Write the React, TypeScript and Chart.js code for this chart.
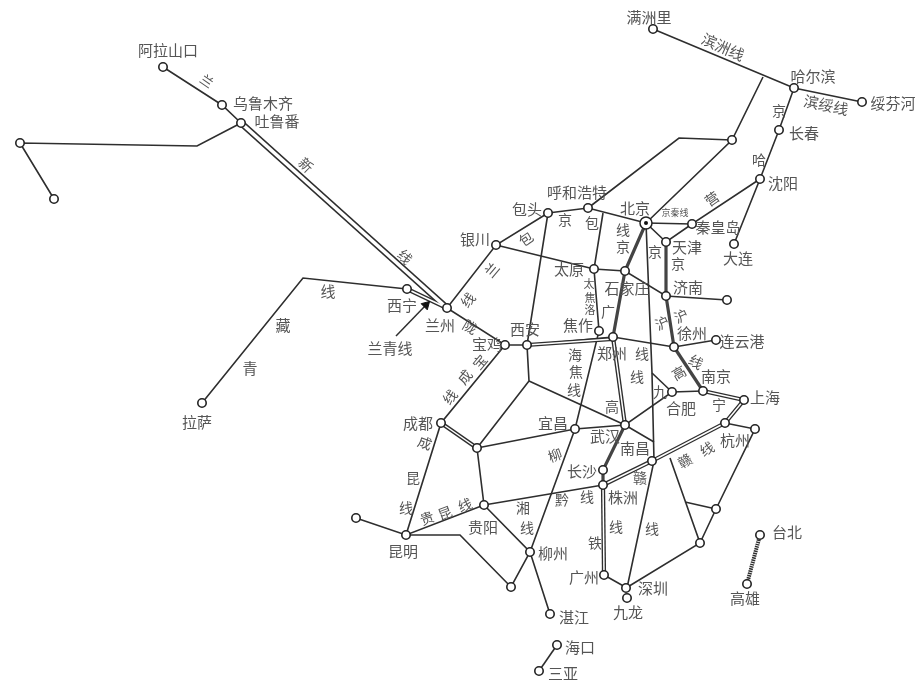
import React, { useEffect, useRef } from "react";
import { Chart, registerables } from "chart.js";

Chart.register(...registerables);

type P = [number, number];

// Railway routes (map x, map y)
const lanxin: P[] = [[241, 123], [447, 308]];
const lanqing: P[] = [[407, 289], [447, 308]];
const beiShijia: P[] = [[646, 223], [625, 271], [613, 337]];
const zhengWu: P[] = [[613, 337], [625, 425]];
const wuZhu: P[] = [[625, 425], [603, 470], [603, 485]];
const tianHu: P[] = [[666, 242], [666, 296], [674, 347]];
const xuNing: P[] = [[674, 347], [703, 391]];
const longhaiEast: P[] = [[527, 345], [613, 339]];
const ninghu: P[] = [[703, 391], [744, 400], [725, 423]];
const zhegan: P[] = [[603, 485], [652, 461], [725, 423]];
const jingguang: P[] = [[603, 485], [604, 575]];
const chengyu: P[] = [[441, 423], [477, 448]];
const taiwan: P[] = [[760, 535], [747, 584]];

const beijiang: P[] = [[163, 67], [222, 105], [241, 123], [197, 146], [20, 143], [54, 199]];
const qingzang: P[] = [[407, 289], [303, 278], [202, 403]];
const binzhou: P[] = [[653, 29], [794, 88], [862, 102]];
const jingha: P[] = [[794, 88], [779, 130], [760, 179], [734, 244]];
const jingqin: P[] = [[646, 223], [692, 224], [760, 179]];
const jingjin: P[] = [[646, 223], [666, 242], [692, 224]];
const jingtong: P[] = [[646, 223], [732, 140], [763, 77]];
const jingbao: P[] = [[548, 213], [588, 208], [646, 223]];
const huhhotNorth: P[] = [[588, 208], [679, 138], [732, 140]];
const baolan: P[] = [[548, 213], [496, 245], [447, 308], [505, 345], [527, 345], [613, 337], [674, 347], [716, 340]];
const shitai: P[] = [[496, 245], [594, 269], [625, 271], [666, 296], [727, 300]];
const tongpu: P[] = [[603, 213], [594, 269], [599, 331], [575, 429], [530, 552], [550, 614]];
const baoXi: P[] = [[548, 213], [527, 345], [529, 381], [477, 448], [484, 505], [406, 535], [441, 423], [505, 345]];
const xiangyu: P[] = [[529, 381], [625, 425], [654, 442]];
const chuanHan: P[] = [[477, 448], [575, 429], [625, 425], [672, 392], [703, 391]];
const jingjiu: P[] = [[646, 223], [652, 373], [654, 461], [627, 588], [604, 575]];
const jiuBranch: P[] = [[652, 373], [672, 392]];
const guiKun: P[] = [[484, 505], [603, 485]];
const qiangui: P[] = [[484, 505], [530, 552], [511, 587], [460, 535], [406, 535], [356, 518]];
const fujian: P[] = [[670, 458], [700, 543], [626, 588]];
const zhejiangEast: P[] = [[725, 423], [755, 429], [716, 509], [700, 543]];
const yingtan: P[] = [[685, 502], [716, 509]];
const hainan: P[] = [[557, 645], [539, 671]];
const arrowLine: P[] = [[396, 336], [426, 305]];

const wideDoubleRoutes = [lanxin];
const doubleRoutes = [longhaiEast, ninghu, zhegan, jingguang, chengyu, lanqing, zhengWu];
const heavyRoutes = [beiShijia, tianHu, wuZhu, xuNing];
const singleRoutes = [
  beijiang, qingzang, binzhou, jingha, jingqin, jingjin, jingtong, jingbao, huhhotNorth, baolan,
  shitai, tongpu, baoXi, xiangyu, chuanHan, jingjiu, jiuBranch, guiKun, qiangui, fujian,
  zhejiangEast, yingtan, hainan,
];

// Stations (open circles)
const stationX = [163, 222, 241, 20, 54, 407, 447, 202, 653, 794, 862, 779, 760, 734, 692, 666, 666, 727, 732, 588, 548, 496, 594, 625, 599, 613, 527, 505, 674, 716, 703, 672, 744, 755, 725, 625, 575, 603, 603, 652, 441, 477, 484, 406, 356, 530, 511, 550, 604, 626, 627, 700, 716, 760, 747, 557, 539];
const stationY = [67, 105, 123, 143, 199, 289, 308, 403, 29, 88, 102, 130, 179, 244, 224, 242, 296, 300, 140, 208, 213, 245, 269, 271, 331, 337, 345, 345, 347, 340, 391, 392, 400, 429, 423, 425, 429, 470, 485, 461, 423, 448, 505, 535, 518, 552, 587, 614, 575, 588, 598, 543, 509, 535, 584, 645, 671];
const capital: P[] = [[646, 223]];

// Text: [text, x, y, angle in degrees, font size]
const labels: [string, number, number, number, number][] = [
  ["阿拉山口", 168, 50, 0, 15], ["兰", 207, 81, 35, 13], ["乌鲁木齐", 263, 103, 0, 15], ["吐鲁番", 277, 121, 0, 15],
  ["新", 306, 165, 45, 14], ["线", 405, 257, 45, 14], ["兰青线", 390, 348, 0, 15], ["西宁", 402, 305, 0, 15],
  ["兰州", 440, 325, 0, 15], ["拉萨", 197, 422, 0, 15], ["线", 328, 291, 0, 15], ["藏", 283, 325, 0, 15], ["青", 250, 368, 0, 15],
  ["满洲里", 649, 17, 0, 15], ["滨洲线", 723, 47, 24, 15], ["哈尔滨", 813, 76, 0, 15], ["滨绥线", 826, 105, 12, 15],
  ["绥芬河", 893, 103, 0, 15], ["京", 779, 111, 0, 14], ["长春", 804, 133, 0, 15], ["哈", 759, 160, 0, 14], ["沈阳", 783, 183, 0, 15],
  ["营", 712, 199, -35, 14], ["大连", 738, 258, 0, 15], ["秦皇岛", 718, 227, 0, 15], ["京秦线", 675, 213, 0, 9], ["北京", 635, 208, 0, 15],
  ["呼和浩特", 577, 192, 0, 15], ["包头", 527, 209, 0, 15], ["京", 565, 220, 0, 14], ["包", 592, 223, 0, 14], ["线", 623, 230, 0, 14],
  ["京", 623, 247, 0, 14], ["天津", 687, 247, 0, 15], ["京", 678, 264, 0, 14], ["京", 655, 252, 0, 14], ["包", 526, 239, -35, 14],
  ["银川", 475, 239, 0, 15], ["兰", 492, 270, -50, 14], ["线", 468, 300, -50, 14], ["太原", 569, 269, 0, 15], ["太", 589, 284, 0, 11],
  ["焦", 590, 298, 0, 11], ["洛", 590, 310, 0, 11], ["广", 608, 312, 0, 14], ["石家庄", 627, 288, 0, 15], ["济南", 688, 287, 0, 15],
  ["沪", 662, 323, -25, 14], ["沪", 681, 316, -25, 14], ["徐州", 692, 333, 0, 15], ["连云港", 742, 341, 0, 15], ["焦作", 578, 325, 0, 15],
  ["西安", 525, 329, 0, 15], ["宝鸡", 487, 344, 0, 15], ["陇", 470, 327, 30, 14], ["郑州", 612, 353, 0, 15], ["线", 642, 354, 0, 14],
  ["线", 637, 377, 0, 14], ["海", 575, 355, 0, 14], ["焦", 576, 372, 0, 14], ["线", 574, 390, 0, 14], ["线", 696, 362, 30, 14],
  ["高", 679, 373, -30, 14], ["南京", 716, 376, 0, 15], ["九", 660, 392, 0, 14], ["宝", 480, 362, -50, 14], ["成", 465, 377, -50, 14],
  ["线", 450, 397, -50, 14], ["成都", 418, 423, 0, 15], ["成", 425, 443, 20, 14], ["昆", 413, 478, 0, 14], ["线", 406, 508, 0, 14],
  ["贵", 427, 518, -20, 14], ["昆", 445, 513, -20, 14], ["线", 465, 505, -20, 14], ["贵阳", 483, 527, 0, 15], ["昆明", 403, 551, 0, 15],
  ["湘", 523, 508, 0, 14], ["线", 527, 528, 0, 14], ["黔", 562, 500, 0, 14], ["线", 587, 497, 0, 14], ["柳州", 553, 553, 0, 15],
  ["柳", 555, 455, -20, 14], ["宜昌", 553, 423, 0, 15], ["武汉", 605, 436, 0, 15], ["南昌", 635, 448, 0, 15], ["长沙", 582, 471, 0, 15],
  ["株洲", 623, 497, 0, 15], ["线", 616, 527, 0, 14], ["铁", 595, 543, 0, 14], ["广州", 584, 577, 0, 15], ["深圳", 653, 588, 0, 15],
  ["九龙", 628, 612, 0, 15], ["湛江", 574, 617, 0, 15], ["海口", 580, 647, 0, 15], ["三亚", 563, 673, 0, 15], ["线", 652, 529, 0, 14],
  ["赣", 640, 478, 0, 14], ["赣", 685, 461, -30, 14], ["线", 707, 449, -30, 14], ["杭州", 735, 440, 0, 15], ["合肥", 681, 408, 0, 15],
  ["上海", 765, 397, 0, 15], ["宁", 719, 405, 0, 14], ["高", 612, 407, 0, 14], ["台北", 787, 532, 0, 15], ["高雄", 745, 598, 0, 15],
];

const lineColor = "#2e2e2e";
const toXY = (r: P[]) => r.map(([x, y]) => ({ x, y }));

const labelPlugin = {
  id: "mapLabels",
  afterDatasetsDraw(chart: any) {
    const { ctx, scales } = chart;
    ctx.save();
    ctx.fillStyle = "#555555";
    ctx.textAlign = "center";
    ctx.textBaseline = "middle";
    for (const [text, x, y, angle, size] of labels) {
      ctx.save();
      ctx.translate(scales.x.getPixelForValue(x), scales.y.getPixelForValue(y));
      ctx.rotate((angle * Math.PI) / 180);
      ctx.font = `${size}px "Noto Sans CJK SC"`;
      ctx.fillText(text, 0, 0);
      ctx.restore();
    }
    ctx.restore();
  },
};

export default function App() {
  const ref = useRef<HTMLCanvasElement>(null);
  useEffect(() => {
    if (!ref.current) return;
    const line = (r: P[], width: number, color: string, order: number) => ({
      data: toXY(r), showLine: true, borderColor: color, borderWidth: width,
      pointRadius: 0, pointHoverRadius: 0, order, borderCapStyle: "butt", borderJoinStyle: "miter", tension: 0,
    });
    const datasets: any[] = [
      ...singleRoutes.map((r) => line(r, 1.6, lineColor, 10)),
      ...heavyRoutes.map((r) => line(r, 3.2, "#444444", 9)),
      ...doubleRoutes.map((r) => line(r, 4.2, lineColor, 8)),
      ...doubleRoutes.map((r) => line(r, 1.5, "#ffffff", 7)),
      ...wideDoubleRoutes.map((r) => line(r, 6.5, lineColor, 8)),
      ...wideDoubleRoutes.map((r) => line(r, 3.6, "#ffffff", 7)),
      { ...line(taiwan, 4, lineColor, 8), borderDash: [1.5, 0.8] },
      { ...line(arrowLine, 1.5, lineColor, 6) },
      {
        data: [{ x: arrowLine[1][0], y: arrowLine[1][1] }], showLine: false, pointStyle: "triangle",
        pointRadius: 5, pointRotation: 45, backgroundColor: "#111", borderColor: "#111", order: 5,
      },
      {
        data: stationX.map((x, i) => ({ x, y: stationY[i] })), showLine: false, pointRadius: 4.2,
        pointBorderWidth: 1.6, pointBackgroundColor: "#fff", pointBorderColor: "#222", order: 3,
      },
      {
        data: toXY(capital), showLine: false, pointRadius: 6, pointBorderWidth: 1.5,
        pointBackgroundColor: "#fff", pointBorderColor: "#222", order: 2,
      },
      {
        data: toXY(capital), showLine: false, pointRadius: 2, pointBorderWidth: 0,
        pointBackgroundColor: "#111", order: 1,
      },
    ];
    const chart = new Chart(ref.current, {
      type: "scatter",
      data: { datasets },
      options: {
        animation: false,
        responsive: false,
        devicePixelRatio: 1,
        events: [],
        layout: { padding: 0, autoPadding: false },
        plugins: { legend: { display: false }, tooltip: { enabled: false } },
        scales: {
          x: { type: "linear", min: 0, max: 918, display: false },
          y: { type: "linear", min: 0, max: 682, reverse: true, display: false },
        },
      } as any,
      plugins: [labelPlugin],
    });
    return () => chart.destroy();
  }, []);
  return (
    <canvas
      ref={ref}
      width={918}
      height={682}
      style={{ position: "absolute", left: 0, top: 0, width: 918, height: 682, filter: "blur(0.45px)" }}
    />
  );
}
